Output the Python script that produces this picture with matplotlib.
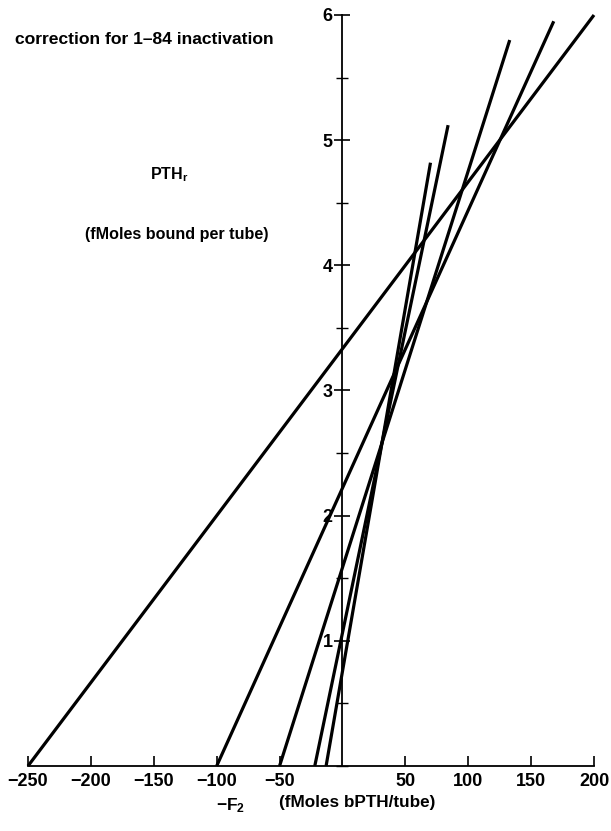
import matplotlib
matplotlib.use("Agg")
import matplotlib.pyplot as plt
from matplotlib.ticker import MultipleLocator, FixedLocator

plt.rcParams['font.family'] = ['Liberation Sans', 'DejaVu Sans']
plt.rcParams['font.weight'] = 'bold'
plt.rcParams['mathtext.fontset'] = 'custom'
plt.rcParams['mathtext.rm'] = 'Liberation Sans:bold'
plt.rcParams['mathtext.bf'] = 'Liberation Sans:bold'
plt.rcParams['mathtext.it'] = 'Liberation Sans:bold'

# Data: each line runs from (x_intercept, 0) to (x_end, y_end)
x_intercepts = [-250, -100, -50, -22, -13]
x_ends = [200, 168, 133, 84, 70]
y_ends = [6.0, 5.95, 5.80, 5.12, 4.82]

x_ticks = [-250, -200, -150, -100, -50, 50, 100, 150, 200]
x_ticklabels = ["\u2212250", "\u2212200", "\u2212150", "\u2212100", "\u221250",
                "50", "100", "150", "200"]
y_ticks = [1, 2, 3, 4, 5, 6]
y_ticklabels = ["1", "2", "3", "4", "5", "6"]

W, H = 611, 831
fig = plt.figure(figsize=(W / 100, H / 100), dpi=100)
ax = fig.add_axes([28 / W, 1 - 766 / H, (594 - 28) / W, (766 - 15) / H])

for x0, x1, y1 in zip(x_intercepts, x_ends, y_ends):
    ax.plot([x0, x1], [0, y1], color='black', lw=2.3, solid_capstyle='butt', clip_on=False)

ax.set_xlim(-250, 200)
ax.set_ylim(0, 6)

ax.spines['right'].set_visible(False)
ax.spines['top'].set_visible(False)
ax.spines['left'].set_position(('data', 0))
ax.spines['bottom'].set_position(('data', 0))
ax.spines['left'].set_linewidth(1.3)
ax.spines['bottom'].set_linewidth(1.3)

ax.xaxis.set_major_locator(FixedLocator(x_ticks))
ax.set_xticklabels(x_ticklabels)
ax.yaxis.set_major_locator(FixedLocator(y_ticks))
ax.set_yticklabels(y_ticklabels)
ax.yaxis.set_minor_locator(MultipleLocator(0.5))

ax.tick_params(axis='x', direction='in', length=7, width=1.2, pad=5,
               labelsize=13)
ax.tick_params(axis='y', which='major', direction='inout', length=12, width=1.2,
               pad=1, labelsize=13)
ax.tick_params(axis='y', which='minor', direction='inout', length=9, width=1.0)

for lab in ax.get_xticklabels() + ax.get_yticklabels():
    lab.set_fontweight('bold')

fig.text(15 / W, 1 - 39 / H, "correction for 1\u201384 inactivation",
         fontsize=12.6, fontweight='bold', ha='left', va='center')
fig.text(150 / W, 1 - 175 / H, r"$\mathbf{PTH}_\mathbf{r}$",
         fontsize=11.5, ha='left', va='center')
fig.text(85 / W, 1 - 235 / H, "(fMoles bound per tube)",
         fontsize=11.6, fontweight='bold', ha='left', va='center')
fig.text(216 / W, 1 - 806 / H, r"$\mathbf{-F}_\mathbf{2}$",
         fontsize=12.5, ha='left', va='center')
fig.text(279 / W, 1 - 803 / H, "(fMoles bPTH/tube)",
         fontsize=12.3, fontweight='bold', ha='left', va='center')

fig.savefig("out.png", dpi=100)
